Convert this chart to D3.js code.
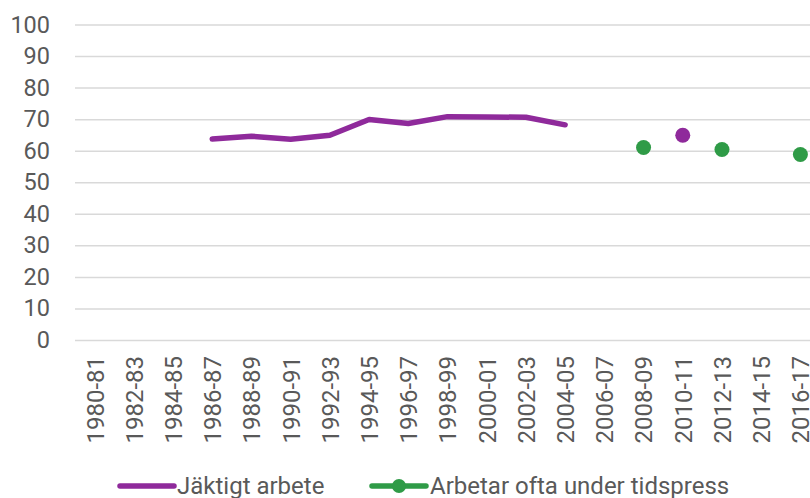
<!DOCTYPE html>
<html>
<head>
	<title>Jäktigt arbete</title>
	<meta charset=utf-8>
	<script src="https://d3js.org/d3.v7.min.js"></script>
	<style type="text/css">
		body{
			margin: 0;
			background: #fff;
		}
		svg{
			display: block;
			font-family: Roboto, sans-serif;
		}
	</style>
</head>
<body>
	<div id="chart"></div>

	<script type="text/javascript">
		// data
		const periods = ['1980-81', '1982-83', '1984-85', '1986-87', '1988-89', '1990-91', '1992-93',
			'1994-95', '1996-97', '1998-99', '2000-01', '2002-03', '2004-05', '2006-07', '2008-09',
			'2010-11', '2012-13', '2014-15', '2016-17'];
		const jaktigt = [null, null, null, 63.7, 64.6, 63.6, 64.9, 69.9, 68.6, 70.8, 70.7, 70.6, 68.2,
			null, null, 64.9, null, null, null];
		const tidspress = [null, null, null, null, null, null, null, null, null, null, null, null, null,
			null, 61.0, null, 60.4, null, 58.8];
		const yTicks = [0, 10, 20, 30, 40, 50, 60, 70, 80, 90, 100];
		const seriesNames = ['Jäktigt arbete', 'Arbetar ofta under tidspress'];

		const purple = '#8f2a9b';
		const green = '#2f9b47';
		const textColor = '#595959';

		const width = 810, height = 498;
		const plotLeft = 75, plotRight = 820, plotTop = 24.5, plotBottom = 340;

		const svg = d3.select('#chart')
			.append('svg')
			.attr('width', width)
			.attr('height', height);

		const x = d3.scalePoint()
			.domain(periods)
			.range([plotLeft, plotRight])
			.padding(0.5);

		const y = d3.scaleLinear()
			.domain([0, 100])
			.range([plotBottom, plotTop]);

		////////////////////////////////////////////////////////////
		// grid + y labels
		const yAxis = svg.append('g')
			.attr('transform', `translate(${plotLeft}, 0)`)
			.call(d3.axisLeft(y).tickValues(yTicks).tickSize(-(width - plotLeft)).tickPadding(25));
		yAxis.select('.domain').remove();
		yAxis.selectAll('.tick line')
			.attr('stroke', '#d9d9d9')
			.attr('stroke-width', 1.5);
		yAxis.selectAll('.tick text')
			.attr('fill', textColor)
			.style('font-size', '23.5px')
			.style('font-family', 'Roboto, sans-serif');

		////////////////////////////////////////////////////////////
		// x labels, rotated
		const xAxis = svg.append('g')
			.attr('transform', `translate(0, ${plotBottom})`)
			.call(d3.axisBottom(x).tickSize(0));
		xAxis.select('.domain').remove();
		xAxis.selectAll('.tick text')
			.attr('fill', textColor)
			.style('font-size', '24px')
			.style('font-family', 'Roboto, sans-serif')
			.attr('transform', 'rotate(-90)')
			.attr('text-anchor', 'end')
			.attr('dx', '-16')
			.attr('dy', '0.35em')
			.attr('x', 0)
			.attr('y', 0);

		////////////////////////////////////////////////////////////
		// purple line (gaps where there is no value)
		const line = d3.line()
			.defined(d => d.v !== null)
			.x(d => x(d.p))
			.y(d => y(d.v));

		const purpleData = periods.map((p, i) => ({p: p, v: jaktigt[i]}));

		svg.append('path')
			.datum(purpleData)
			.attr('d', line)
			.attr('fill', 'none')
			.attr('stroke', purple)
			.attr('stroke-width', 5.5)
			.attr('stroke-linecap', 'round')
			.attr('stroke-linejoin', 'round');

		// lone purple values (no neighbours) shown as dots
		svg.append('g')
			.selectAll('circle')
			.data(purpleData.filter((d, i) => d.v !== null && jaktigt[i - 1] == null && jaktigt[i + 1] == null))
			.enter()
			.append('circle')
			.attr('cx', d => x(d.p))
			.attr('cy', d => y(d.v))
			.attr('r', 7.5)
			.attr('fill', purple);

		// green markers
		svg.append('g')
			.selectAll('circle')
			.data(periods.map((p, i) => ({p: p, v: tidspress[i]})).filter(d => d.v !== null))
			.enter()
			.append('circle')
			.attr('cx', d => x(d.p))
			.attr('cy', d => y(d.v))
			.attr('r', 7.5)
			.attr('fill', green);

		////////////////////////////////////////////////////////////
		// legend
		const legendY = 486;
		const legend = svg.append('g');

		legend.append('line')
			.attr('x1', 120).attr('x2', 174)
			.attr('y1', legendY).attr('y2', legendY)
			.attr('stroke', purple)
			.attr('stroke-width', 5.5)
			.attr('stroke-linecap', 'round');
		legend.append('text')
			.attr('x', 177)
			.attr('y', legendY)
			.attr('dy', '0.35em')
			.attr('fill', textColor)
			.style('font-size', '24px')
			.text(seriesNames[0]);

		legend.append('line')
			.attr('x1', 372).attr('x2', 426)
			.attr('y1', legendY).attr('y2', legendY)
			.attr('stroke', green)
			.attr('stroke-width', 5.5)
			.attr('stroke-linecap', 'round');
		legend.append('circle')
			.attr('cx', 399)
			.attr('cy', legendY)
			.attr('r', 7)
			.attr('fill', green);
		legend.append('text')
			.attr('x', 430)
			.attr('y', legendY)
			.attr('dy', '0.35em')
			.attr('fill', textColor)
			.style('font-size', '24px')
			.text(seriesNames[1]);
	</script>
</body>
</html>
